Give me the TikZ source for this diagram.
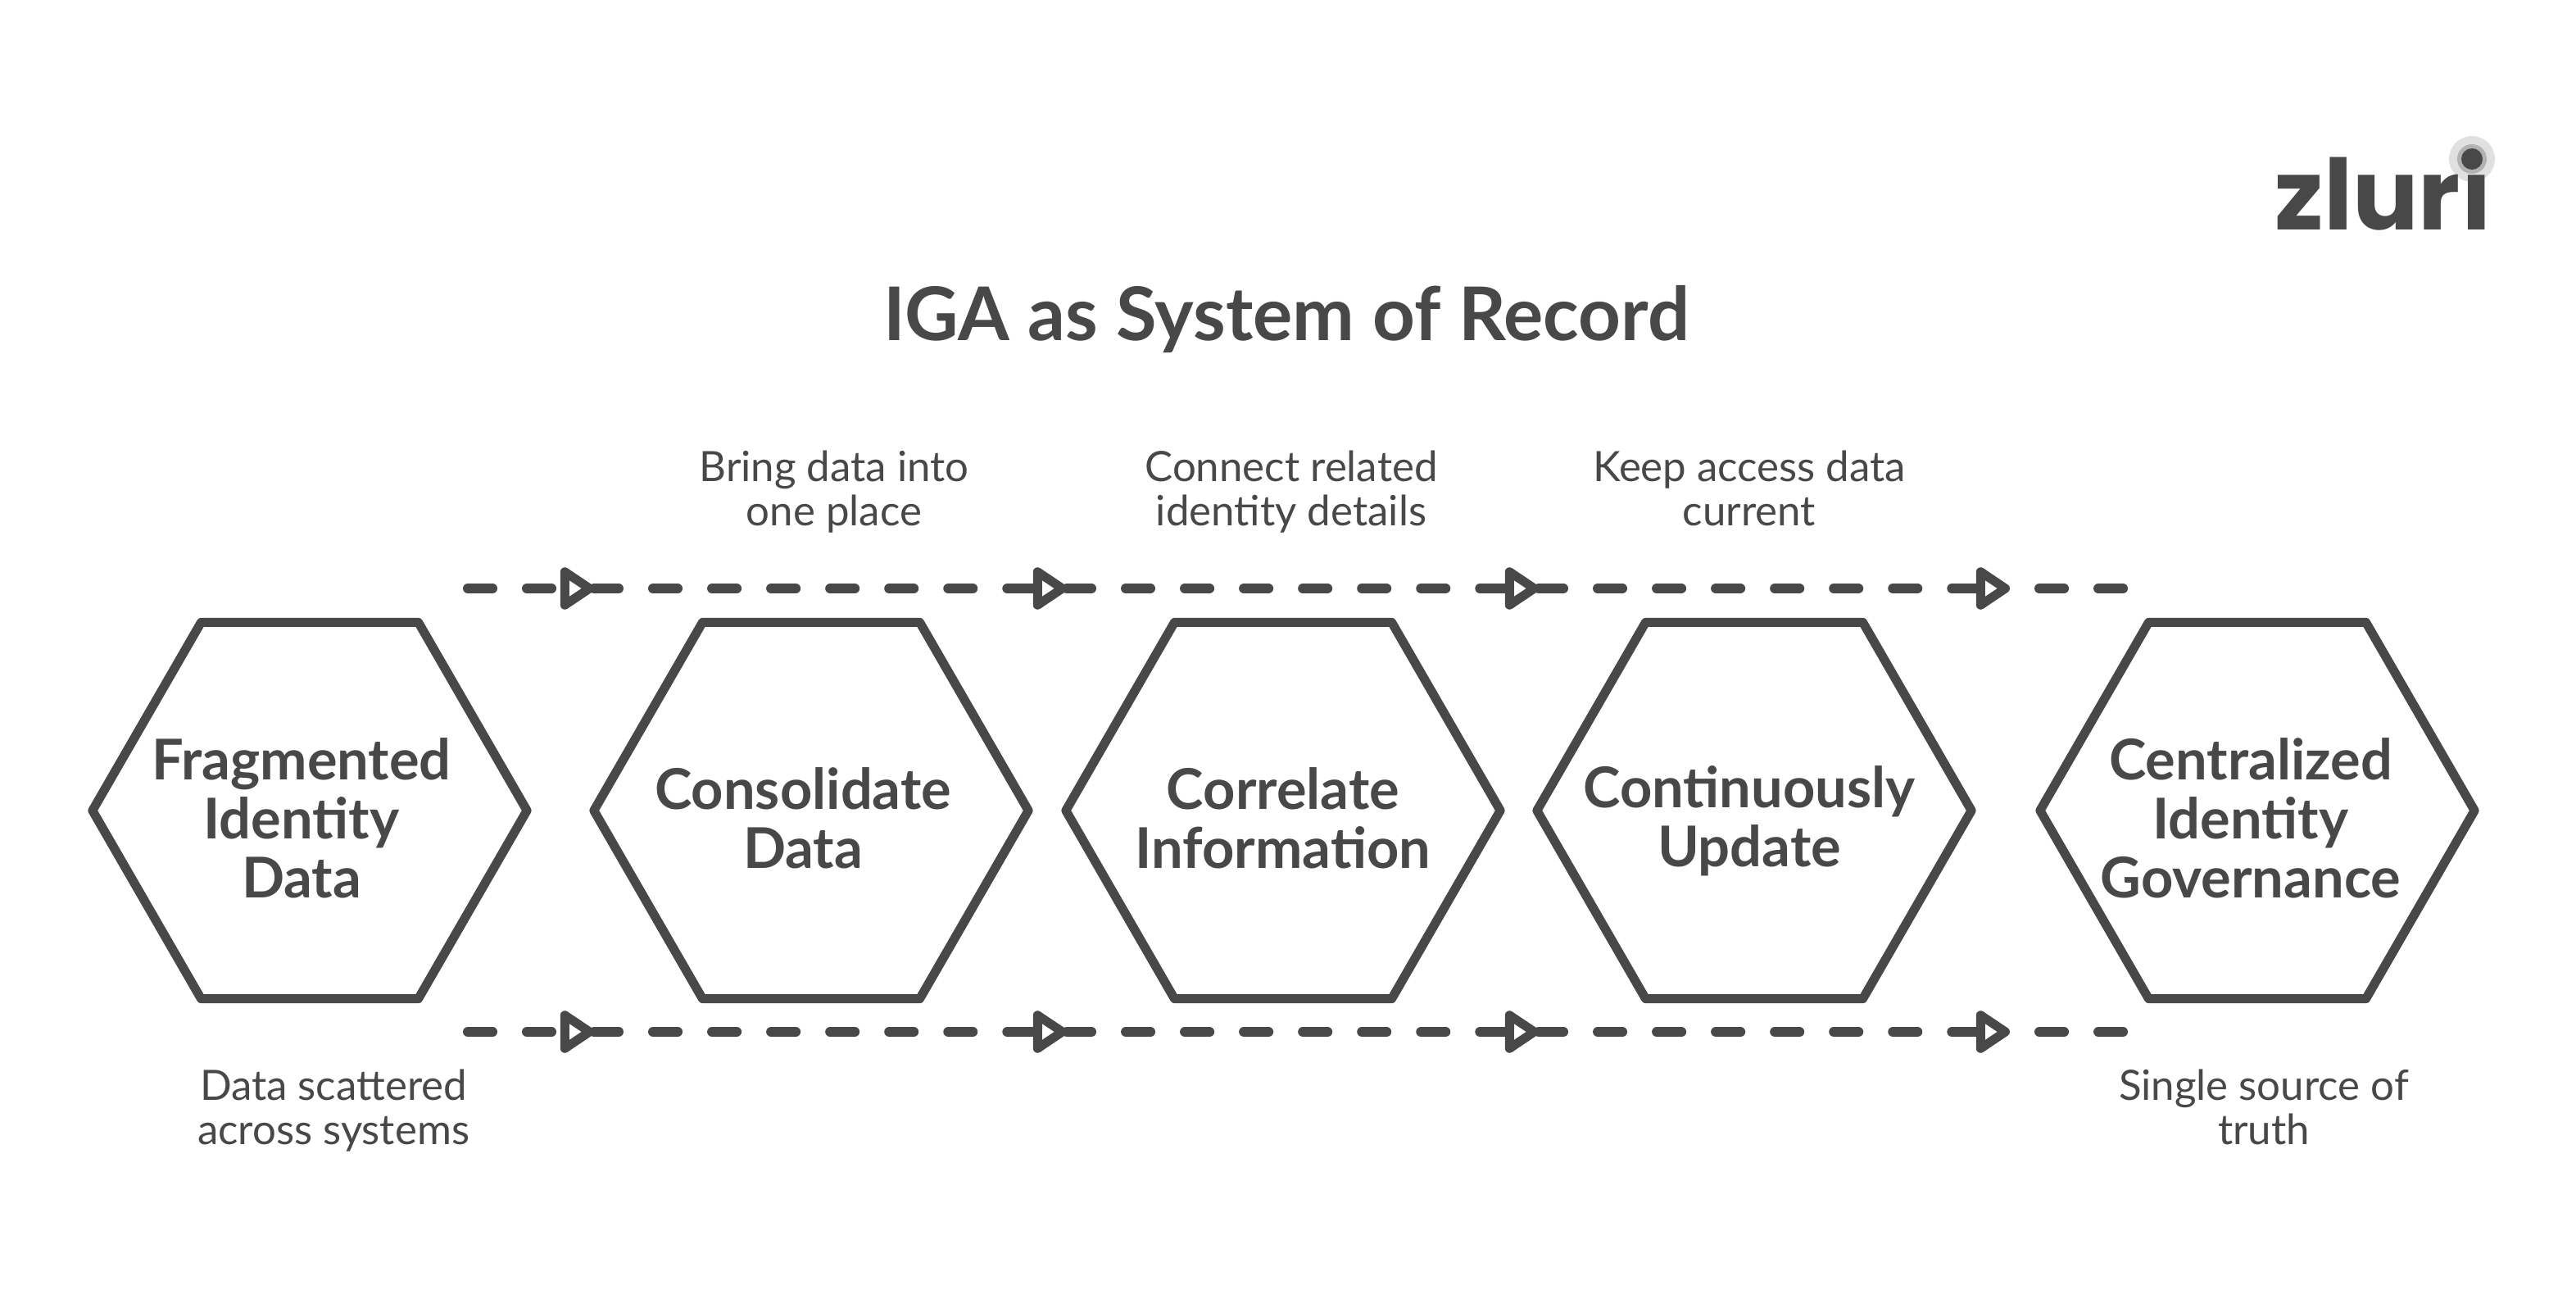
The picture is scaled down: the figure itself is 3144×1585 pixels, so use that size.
\documentclass[tikz,border=0pt]{standalone}
\usepackage{fontspec}
\usepackage{tikz}
\usetikzlibrary{arrows.meta,shapes.geometric}
\setmainfont{Lato}
\newfontfamily\logofont{Poppins}
\xdefinecolor{ink}{RGB}{72, 72, 72}
\tikzset{
    stepbox/.style={regular polygon, regular polygon sides=6, draw=ink, line width=0.11cm, line join=round, minimum size=5.3cm, inner sep=0pt},
    stepname/.style={align=center, text=ink, yshift=-0.09cm, font=\fontsize{19.5}{20.5}\selectfont\bfseries},
    notetext/.style={align=center, text=ink, font=\fontsize{14.5}{15.4}\selectfont},
    flowline/.style={draw=ink, line width=0.12cm, line cap=round, dash pattern=on 0.3cm off 0.42cm},
    flowtip/.style={flowline, -{Triangle[open, length=0.46cm, width=0.58cm, line width=0.11cm, round]}}
}

\begin{document}
\begin{tikzpicture}[x=0.01cm, y=-0.01cm]
            \useasboundingbox (0, 0) rectangle (3144, 1585);

            % Title
            \node[text=ink, font=\fontsize{25.7}{30}\selectfont\bfseries] (Title) at (1570, 389) {IGA as System of Record};

            % Logo, its dot first so that the letters lie on top
            \fill[black!12] (3017, 194) circle [radius=28];
            \fill[black!30] (3017, 194) circle [radius=18];
            \fill[ink] (3017, 194) circle [radius=13];
            \node[anchor=base west, inner sep=0pt, text=ink, font=\fontsize{34}{34}\logofont\bfseries] (Logo) at (2776, 281) {zlurı};

            % Draw the hexagons
            \node[stepbox, label={[stepname, xshift=-0.1cm]center:{Fragmented\\Identity\\Data}}] (Fragmented) at (378, 989) {};
            \node[stepbox, label={[stepname, xshift=-0.1cm]center:{Consolidate\\Data}}] (Consolidate) at (990, 989) {};
            \node[stepbox, label={[stepname]center:{Correlate\\Information}}] (Correlate) at (1566, 989) {};
            \node[stepbox, label={[stepname, xshift=-0.06cm, yshift=-0.04cm]center:{Continuously\\Update}}] (Update) at (2141, 989) {};
            \node[stepbox, label={[stepname, xshift=-0.08cm]center:{Centralized\\Identity\\Governance}}] (Centralized) at (2755, 989) {};

            % Add texts above and below
            \node[notetext] (Bring) at (1018, 600) {Bring data into\\one place};
            \node[notetext] (Connect) at (1576, 600) {Connect related\\identity details};
            \node[notetext] (Keep) at (2135, 596) {Keep access data\\current};
            \node[notetext] (Scattered) at (407, 1355) {Data scattered\\across systems};
            \node[notetext] (Truth) at (2763, 1351) {Single source of\\truth};

            % Dashed rows, arrows stand on the way
            \foreach \row/\y in {top/718, bottom/1259} {
                    \foreach \x [count=\i] in {571, 725, 1302, 1878, 2453, 2591} {
                            \coordinate (\row-\i) at (\x, \y);
                        }
                    \foreach \i [evaluate=\i as \j using int(\i+1)] in {1, 2, 3, 4} {
                            \draw[flowtip] (\row-\i) -- (\row-\j);
                        }
                    \draw[flowline, dash phase=0.36cm] (\row-5) -- (\row-6);
                }
        \end{tikzpicture}
\end{document}
